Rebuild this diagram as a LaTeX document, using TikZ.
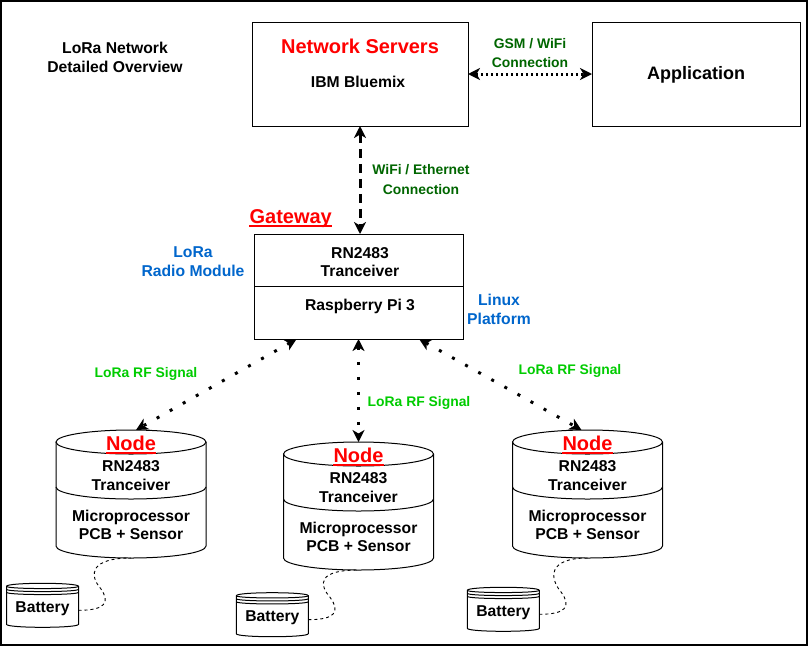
\documentclass[tikz,border=0pt]{standalone}
\usepackage{fontspec}
\setmainfont{Liberation Sans}
\usetikzlibrary{arrows.meta,calc}
\definecolor{netred}{HTML}{FF0000}
\definecolor{dkgreen}{HTML}{006600}
\definecolor{ltgreen}{HTML}{00CC00}
\definecolor{lblue}{HTML}{0066CC}
\tikzset{
  box/.style={draw, line width=1pt, inner sep=0pt, outer sep=0pt},
  cylline/.style={line width=1pt},
  body/.style={font=\bfseries\fontsize{15.7}{18.7}\selectfont, align=center, inner sep=0pt},
  ttl/.style={font=\bfseries\fontsize{20}{24}\selectfont, text=netred, inner sep=0pt},
  lbl/.style={font=\bfseries\fontsize{13.9}{19.5}\selectfont, align=center, inner sep=0pt},
  uline/.style={draw=netred, line width=1.4pt},
  gsmline/.style={line width=3pt, dash pattern=on 2.5pt off 2.5pt, <->},
  ethline/.style={line width=3pt, dash pattern=on 9pt off 6pt, <->},
  rfline/.style={line width=3pt, dash pattern=on 3pt off 12pt, <->},
  wire/.style={line width=0.9pt, dash pattern=on 3pt off 3pt},
}
\newcommand{\nodecyl}[3]{%
  \node[minimum width=150, minimum height=128, inner sep=0pt, outer sep=0pt] (#1) at ({#2},{-(#3+64)}) {};
  \coordinate (#1-top) at ({#2},{-(#3)});
  \coordinate (#1-bot) at ({#2},{-(#3+128)});
  \draw[cylline] ({#2-75},{-(#3+12)}) -- ({#2-75},{-(#3+116)}) arc[start angle=180,end angle=360,x radius=75,y radius=12] -- ({#2+75},{-(#3+12)});
  \draw[cylline] ({#2},{-(#3+12)}) ellipse[x radius=75,y radius=12];
  \draw[cylline] ({#2-75},{-(#3+57)}) arc[start angle=180,end angle=360,x radius=75,y radius=12];
  \node[ttl] (#1-title) at ({#2},{-(#3+13)}) {Node};
  \draw[uline] ([yshift=-2.8pt]#1-title.base west) -- ([yshift=-2.8pt]#1-title.base east);
  \node[body] (#1-radio) at ({#2},{-(#3+45.5)}) {RN2483\\Tranceiver};
  \node[body] (#1-mcu) at ({#2},{-(#3+95)}) {Microprocessor\\PCB + Sensor};
}
\newcommand{\batt}[3]{%
  \node[minimum width=72, minimum height=44, inner sep=0pt, outer sep=0pt] (#1) at ({#2+36},{-(#3+22)}) {};
  \draw[cylline] ({#2},{-(#3+3)}) .. controls ({#2},{-(#3-1)}) and ({#2+72},{-(#3-1)}) .. ({#2+72},{-(#3+3)}) -- ({#2+72},{-(#3+41)}) .. controls ({#2+72},{-(#3+45)}) and ({#2},{-(#3+45)}) .. ({#2},{-(#3+41)}) -- cycle;
  \foreach \k in {1,2,3} {\draw[cylline] ({#2},{-(#3+3*\k)}) .. controls ({#2},{-(#3+3*\k+3)}) and ({#2+72},{-(#3+3*\k+3)}) .. ({#2+72},{-(#3+3*\k)});}
  \node[body, anchor=base] (#1-text) at ({#2+36},{-(#3+29)}) {Battery};
  \coordinate (#1-out) at ({#2+72},{-(#3+27)});
}
\begin{document}
\begin{tikzpicture}[x=1pt, y=1pt, >={Stealth[length=12pt,width=12pt,inset=3.5pt]}]
\useasboundingbox (0,0) rectangle (808,-646);
\fill[white] (0,0) rectangle (808,-646);
\draw[line width=2pt] (1,-1) rectangle (807,-645);

% title
\node[body] (overview) at (115,-57.2) {LoRa Network\\Detailed Overview};

% network servers
\node[box, minimum width=216, minimum height=104] (ns) at (360,-74) {};
\node[ttl] (nstitle) at (360,-46) {Network Servers};
\node[body] (nsname) at (358,-82) {IBM Bluemix};

% application
\node[box, minimum width=208, minimum height=104] (app) at (696,-74) {};
\node[font=\bfseries\fontsize{18}{22}\selectfont, anchor=base, inner sep=0pt] (apptext) at (696,-79.5) {Application};

% GSM connection
\draw[gsmline] (ns) -- (app);
\node[lbl, text=dkgreen] (gsmlbl) at (530,-53) {GSM / WiFi\\Connection};

% gateway
\node[box, minimum width=209, minimum height=105] (gw) at (358.5,-286.5) {};
\draw[line width=1pt] ($(gw.north west)+(0,-52)$) -- ($(gw.north east)+(0,-52)$);
\node[ttl, anchor=base] (gwtitle) at (290.7,-223) {Gateway};
\draw[uline] ([yshift=-2.8pt]gwtitle.base west) -- ([yshift=-2.8pt]gwtitle.base east);
\node[body] (gwradio) at (360,-262) {RN2483\\Tranceiver};
\node[body, anchor=base] (gwpi) at (360,-310) {Raspberry Pi 3};
\node[body, text=lblue] (lrm) at (193,-262) {LoRa\\Radio Module};
\node[body, text=lblue] (linux) at (499,-309.5) {Linux\\Platform};

% WiFi / Ethernet connection
\draw[ethline] (ns.south) -- (ns.south |- gw.north);
\node[lbl, text=dkgreen] (ethlbl) at (421,-179.5) {WiFi / Ethernet\\Connection};

% nodes
\nodecyl{n1}{131}{430}
\nodecyl{n2}{358.5}{442}
\nodecyl{n3}{587.5}{430}

% LoRa RF links
\coordinate (gw1) at ($(gw.south west)!0.204!(gw.south east)$);
\coordinate (gw3) at ($(gw.south west)!0.79!(gw.south east)$);
\draw[rfline] (gw1) -- ([xshift=5pt]n1-top);
\draw[rfline] (gw.south) -- (n2-top);
\draw[rfline] (gw3) -- ([xshift=-6pt]n3-top);
\node[lbl, text=ltgreen, anchor=base] (rf1) at (146,-377.3) {LoRa RF Signal};
\node[lbl, text=ltgreen, anchor=base] (rf2) at (419,-406.7) {LoRa RF Signal};
\node[lbl, text=ltgreen, anchor=base] (rf3) at (570,-374) {LoRa RF Signal};

% batteries
\batt{b1}{6.5}{583.3}
\batt{b2}{236.3}{592.7}
\batt{b3}{467.3}{587.3}

\draw[wire] (b1-out) .. controls +(27,0) and +(10,-14) .. ++(22,22) .. controls +(-12,14) and +(-40,0) .. (n1-bot);
\draw[wire] (b2-out) .. controls +(27,0) and +(10,-14) .. ++(22,22) .. controls +(-12,14) and +(-40,0) .. (n2-bot);
\draw[wire] (b3-out) .. controls +(27,0) and +(10,-14) .. ++(22,22) .. controls +(-12,14) and +(-40,0) .. (n3-bot);
\end{tikzpicture}
\end{document}
